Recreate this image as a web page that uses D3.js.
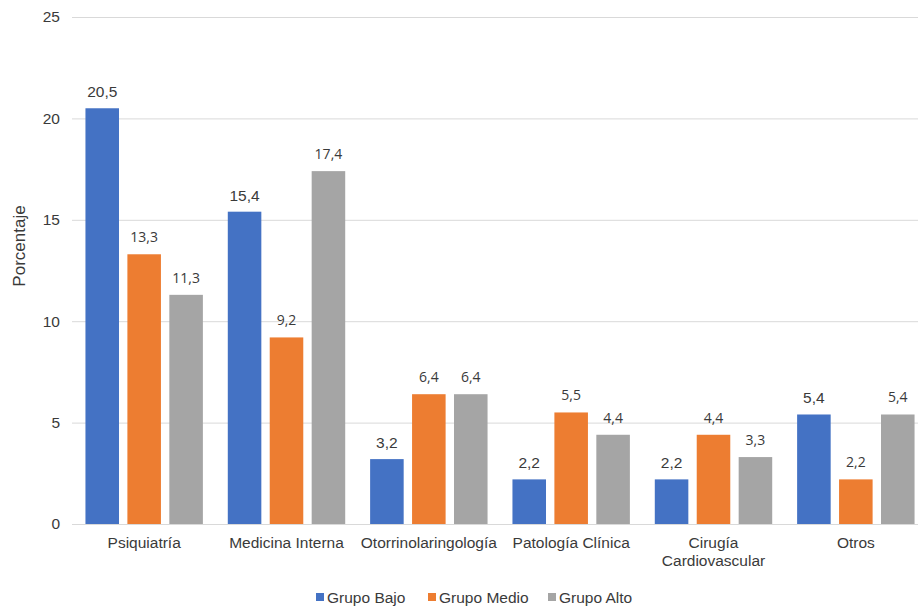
<!DOCTYPE html>
<html><head><meta charset="utf-8">
<script src="https://cdn.jsdelivr.net/npm/d3@7"></script>
<style>body{margin:0;background:#fff}svg{display:block}</style>
</head><body>
<svg id="c" width="918" height="610"></svg>
<script>
const categories = ["Psiquiatría","Medicina Interna","Otorrinolaringología","Patología Clínica","Cirugía\nCardiovascular","Otros"];
const seriesNames = ["Grupo Bajo","Grupo Medio","Grupo Alto"];
const grupoBajo  = [20.5, 15.4, 3.2, 2.2, 2.2, 5.4];
const grupoMedio = [13.3, 9.2, 6.4, 5.5, 4.4, 2.2];
const grupoAlto  = [11.3, 17.4, 6.4, 4.4, 3.3, 5.4];
const yTicks = [0,5,10,15,20,25];
const colors = ["#4472C4","#ED7D31","#A5A5A5"];
const seriesValues = [grupoBajo, grupoMedio, grupoAlto];
const textColor = "#3a3a3a";
const arial = "Liberation Sans, Arial, sans-serif";

const svg = d3.select("#c");
const y = d3.scaleLinear().domain([0,25]).range([524,17]);
const x0 = d3.scaleBand().domain(categories).range([73,927]).paddingInner(0.175).paddingOuter(0.0875);
const x1 = d3.scaleBand().domain(seriesNames).range([0,x0.bandwidth()]).paddingInner(0.2);

// gridlines
svg.append("g").selectAll("line").data(yTicks).join("line")
  .attr("x1",72).attr("x2",918).attr("y1",d=>y(d)+0.5).attr("y2",d=>y(d)+0.5)
  .attr("stroke","#d9d9d9").attr("stroke-width",1);

// y axis labels
const yAxis = svg.append("g").attr("transform","translate(60,0)")
  .call(d3.axisLeft(y).tickValues(yTicks).tickSize(0).tickPadding(0));
yAxis.select(".domain").remove();
yAxis.selectAll("text").attr("font-family",arial).attr("font-size",15.5).attr("fill",textColor);

// y title
svg.append("text").attr("transform","translate(25,246) rotate(-90)").attr("text-anchor","middle")
  .attr("font-family",arial).attr("font-size",17).attr("fill",textColor).text("Porcentaje");

// bars
const groups = svg.append("g").selectAll("g").data(categories).join("g")
  .attr("transform",d=>`translate(${x0(d)},0)`);
groups.each(function(cat,ci){
  const g = d3.select(this);
  seriesNames.forEach((s,si)=>{
    const v = seriesValues[si][ci];
    g.append("rect").attr("x",x1(s)).attr("width",x1.bandwidth())
      .attr("y",y(v)).attr("height",y(0)-y(v)).attr("fill",colors[si]);
    g.append("text").attr("x",x1(s)+x1.bandwidth()/2).attr("y",y(v)-(si===0?11:12))
      .attr("text-anchor","middle")
      .attr("font-family", si===0 ? arial : "Open Sans, Noto Sans, sans-serif")
      .attr("font-size", si===0 ? 15.5 : 14)
      .attr("fill",textColor)
      .text(String(v.toFixed(1)).replace(".",","));
  });
});

// x axis
const xAxis = svg.append("g").attr("transform","translate(0,524)")
  .call(d3.axisBottom(x0).tickSize(0).tickPadding(0));
xAxis.select(".domain").attr("stroke","#d9d9d9").attr("d","M72,0.5H918");
xAxis.selectAll("text").remove();
xAxis.selectAll(".tick").each(function(d){
  const t = d3.select(this).append("text").attr("text-anchor","middle")
    .attr("font-family",arial).attr("font-size",15.5).attr("fill",textColor);
  d.split("\n").forEach((line,i)=>{
    t.append("tspan").attr("x",0).attr("y",24+i*18).text(line);
  });
});

// legend
const legX = [316, 428, 548];
const leg = svg.append("g").selectAll("g").data(seriesNames).join("g")
  .attr("transform",(d,i)=>`translate(${legX[i]},598)`);
leg.append("rect").attr("x",0).attr("y",-5).attr("width",8).attr("height",8).attr("fill",(d,i)=>colors[i]);
leg.append("text").attr("x",11).attr("y",5).attr("font-family",arial)
  .attr("font-size",15.5).attr("fill",textColor).text(d=>d);
</script>
</body></html>
